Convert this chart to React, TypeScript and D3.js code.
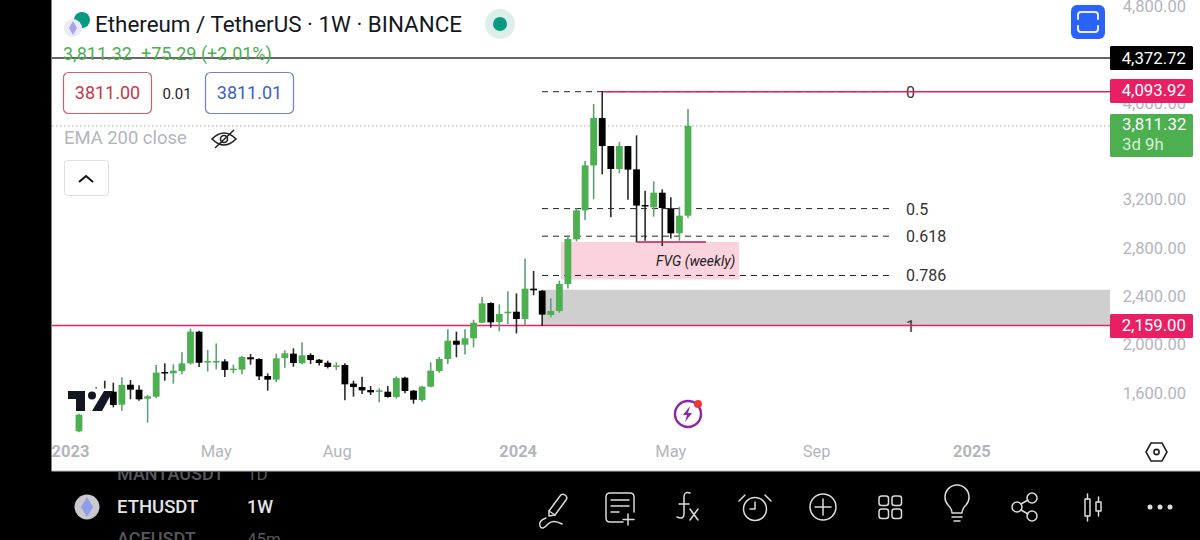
import React from "react";
import * as d3 from "d3";

const opens = [1283,1580,1590,1610,1611,1504,1669,1628,1553,1570,1774,1763,1782,1846,2108,1860,1860,1862,1796,1794,1896,1882,1741,1711,1890,1926,1846,1915,1876,1851,1821,1832,1678,1650,1625,1614,1611,1567,1727,1620,1542,1653,1782,1882,2033,2000,2053,2182,2345,2188,2260,2273,2213,2464,2447,2246,2279,2502,2872,3112,3484,3876,3644,3454,3644,3451,3156,3137,3258,3129,2922,3068];
const highs = [1430,1620,1647,1702,1686,1730,1708,1664,1584,1832,1846,1838,1937,2133,2116,1956,2011,1879,1835,1909,1923,1887,1763,1926,1954,1970,2020,1929,1882,1868,1854,1846,1703,1735,1658,1639,1658,1738,1735,1625,1658,1854,1898,2127,2108,2127,2207,2395,2351,2334,2442,2425,2712,2610,2453,2384,2530,2894,3129,3520,3992,4094,3644,3678,3644,3733,3275,3352,3286,3220,3142,3951];
const lows = [1275,1500,1520,1540,1482,1454,1548,1537,1355,1556,1702,1678,1755,1835,1816,1777,1796,1733,1763,1755,1835,1708,1620,1691,1810,1818,1838,1840,1827,1804,1791,1540,1570,1592,1584,1523,1562,1553,1598,1512,1529,1647,1769,1840,1896,1920,1978,2180,2141,2111,2171,2094,2160,2409,2155,2227,2265,2466,2855,3032,3203,3410,3054,3418,3200,2847,2861,3060,2817,2880,2861,3051];
const closes = [1421,1530,1560,1580,1501,1667,1628,1548,1573,1769,1766,1785,1846,2108,1851,1865,1865,1791,1802,1898,1879,1738,1711,1887,1929,1849,1912,1873,1849,1816,1829,1672,1650,1622,1606,1622,1567,1724,1617,1545,1653,1785,1882,2033,2000,2053,2182,2342,2185,2254,2273,2213,2464,2450,2249,2279,2502,2875,3112,3484,3876,3644,3454,3644,3449,3151,3148,3258,3131,2922,3068,3811.32];

const yTickValues = [4800, 4000, 3200, 2800, 2400, 2000, 1600];
const xTickWeeks = [-1, 16, 30.1, 51.2, 69, 86, 104.1];
const xTickLabels = ["2023", "May", "Aug", "2024", "May", "Sep", "2025"];
const xTickBold = [true, false, false, true, false, false, true];

const fibHigh = 4093.92;
const fibLow = 2159;
const fibLevels = [0, 0.5, 0.618, 0.786, 1];
const fibLabels = ["0", "0.5", "0.618", "0.786", "1"];
const blackLevel = 4372.72;
const lastPrice = 3811.32;
const fvgTop = 2850;
const fvgBottom = 2540;
const grayTop = 2455;

const font = "Roboto, sans-serif";
const GREEN = "#4caf50";
const PINK = "#e91e63";
const AXIS = "#b2b5be";
const ICON = "#dcdcdc";

const Icon = ({ x, children, y = 507 }: any) => (
  <g transform={`translate(${x},${y})`} fill="none" stroke={ICON} strokeWidth={1.5} strokeLinecap="round" strokeLinejoin="round">
    {children}
  </g>
);

export default function App() {
  const x = d3.scaleLinear().domain([0, 71]).range([79, 688]);
  const y = d3.scaleLinear().domain([blackLevel, fibLow]).range([58, 325.5]);
  const fmt = d3.format(",.2f");
  const fibY = (l: number) => y(fibHigh - (fibHigh - fibLow) * l);
  const R = 1110;
  const L = 52;
  const bw = 6.8;

  return (
    <svg width={1200} height={540} viewBox="0 0 1200 540" style={{ position: "fixed", left: 0, top: 0, display: "block", fontFamily: font }}>
      <rect width={1200} height={540} fill="#fff" />

      {/* zones */}
      <rect x={x(54)} y={y(grayTop)} width={R - x(54)} height={y(fibLow) - y(grayTop)} fill="#cfcfcf" />
      <rect x={561} y={y(fvgTop)} width={178} height={y(fvgBottom) - y(fvgTop)} fill="#fbd3df" />

      {/* horizontal lines */}
      <line x1={L} x2={R} y1={y(lastPrice)} y2={y(lastPrice)} stroke="#b5bdb5" strokeWidth={1.2} strokeDasharray="1.5 2.5" />

      {/* fib levels */}
      {fibLevels.map((l, i) => (
        <g key={l}>
          <line x1={542} x2={893} y1={fibY(l)} y2={fibY(l)} stroke="#222" strokeWidth={1} strokeDasharray="6 5" />
          <text x={906} y={fibY(l) + 6} fontSize={16} fill="#333">{fibLabels[i]}</text>
        </g>
      ))}

      <line x1={L} x2={R} y1={y(fibLow)} y2={y(fibLow)} stroke={PINK} strokeWidth={1.6} />
      <line x1={x(61)} x2={R} y1={y(fibHigh)} y2={y(fibHigh)} stroke={PINK} strokeWidth={1.6} />

      {/* candles */}
      {opens.map((o, i) => {
        const c = closes[i];
        const up = c >= o;
        const top = y(Math.max(o, c));
        const bot = y(Math.min(o, c));
        return (
          <g key={i}>
            <line x1={x(i)} x2={x(i)} y1={y(highs[i])} y2={y(lows[i])} stroke={up ? "#5f9f75" : "#2a2a2a"} strokeWidth={1.6} />
            <rect x={x(i) - bw / 2} y={top} width={bw} height={Math.max(bot - top, 1.5)} fill={up ? GREEN : "#000"} />
          </g>
        );
      })}

      {/* FVG bottom line and label */}
      <line x1={637} x2={706} y1={y(fvgTop)} y2={y(fvgTop)} stroke="#b3204f" strokeWidth={1.4} />
      <text x={656} y={266} fontSize={14} fontStyle="italic" fill="#222">FVG (weekly)</text>

      {/* TV logo on a white patch */}
      <rect x={66} y={388.5} width={43} height={25} fill="#fff" />
      <g fill="#131722">
        <path d="M68 391h17v20h-9v-12h-8z" />
        <circle cx={92} cy={395.5} r={4} />
        <path d="M104 391h9l-11 20h-10z" />
      </g>

      {/* lightning badge */}
      <g>
        <circle cx={688} cy={414} r={13} fill="none" stroke="#8e24aa" strokeWidth={2.4} />
        <path d="M690 406l-7 9h4l-2 7 7-9h-4z" fill="#8e24aa" />
        <circle cx={698} cy={404} r={4} fill="#e53935" />
      </g>

      {/* black line */}
      <line x1={L} x2={R} y1={y(blackLevel)} y2={y(blackLevel)} stroke="#333" strokeWidth={1.5} />

      {/* header */}
      <circle cx={82} cy={20} r={8} fill="#089981" />
      <circle cx={73} cy={28} r={9} fill="#eceaf6" />
      <path d="M73 21l-4 7 4 7 4-7z" fill="#a9a3e6" />
      <text x={95} y={32} fontSize={22.4} fill="#131722">Ethereum / TetherUS · 1W · BINANCE</text>
      <circle cx={500} cy={24} r={15} fill="#dcefeb" />
      <circle cx={500} cy={24} r={7} fill="#089981" />
      <text y={60} fontSize={18} fill={GREEN}>
        <tspan x={63}>3,811.32</tspan>
        <tspan x={141}>+75.29 (+2.01%)</tspan>
      </text>

      <rect x={63.5} y={72.5} width={88} height={41} rx={5} fill="#fff" stroke="#c9606f" strokeWidth={1.2} />
      <text x={107.5} y={99} fontSize={18} textAnchor="middle" fill="#c8374a">3811.00</text>
      <text x={177} y={99} fontSize={15} textAnchor="middle" fill="#222">0.01</text>
      <rect x={205.5} y={72.5} width={88} height={41} rx={5} fill="#fff" stroke="#6d84c9" strokeWidth={1.2} />
      <text x={249.5} y={99} fontSize={18} textAnchor="middle" fill="#3d5fc4">3811.01</text>

      <text x={64} y={144} fontSize={18.4} fill={AXIS}>EMA 200 close</text>
      <g fill="none" stroke="#222" strokeWidth={1.6}>
        <path d="M212 139q12-12 24 0q-12 12-24 0z" />
        <circle cx={224} cy={139} r={3.5} />
        <path d="M215 148l19-18" />
      </g>
      <rect x={64.5} y={160.5} width={44} height={35} rx={3} fill="#fff" stroke="#ddd" />
      <path d="M79 182l7-6 7 6" fill="none" stroke="#111" strokeWidth={2} />

      <rect x={1071} y={5} width={34} height={34} rx={6} fill="#2962ff" />
      <g fill="none" stroke="#e8eeff" strokeWidth={2} strokeLinecap="round">
        <path d="M1078 19v-4q0-3 3-3h14q3 0 3 3v4" />
        <path d="M1078 26v3q0 3 3 3h14q3 0 3-3v-3" />
      </g>

      {/* axes */}
      {yTickValues.map((v) => (
        <text key={v} x={1186} y={y(v) + 5.5} fontSize={16.5} textAnchor="end" fill={AXIS}>{fmt(v)}</text>
      ))}
      {/* price tags */}
      <rect x={1110} y={46} width={83} height={24} rx={1.5} fill="#000" />
      <text x={1186} y={63.5} fontSize={16.8} textAnchor="end" fill="#fff">{fmt(blackLevel)}</text>
      <rect x={1110} y={79} width={83} height={24} rx={1.5} fill={PINK} />
      <text x={1186} y={96} fontSize={16.8} textAnchor="end" fill="#fff">{fmt(fibHigh)}</text>
      <rect x={1110} y={114} width={83} height={43} rx={1.5} fill={GREEN} />
      <text x={1122} y={130} fontSize={16.8} fill="#fff">{fmt(lastPrice)}</text>
      <text x={1122} y={150} fontSize={16.8} fill="#d5f0d6">3d 9h</text>
      <rect x={1110} y={314} width={83} height={24} rx={1.5} fill={PINK} />
      <text x={1186} y={331} fontSize={16.8} textAnchor="end" fill="#fff">{fmt(fibLow)}</text>

      {xTickWeeks.map((w, i) => (
        <text key={i} x={x(w)} y={457} fontSize={16.5} textAnchor="middle" fontWeight={xTickBold[i] ? 700 : 400} fill={AXIS}>{xTickLabels[i]}</text>
      ))}
      <g fill="none" stroke="#222" strokeWidth={1.6}>
        <path d="M1146 452l5-9h11l5 9-5 9h-11z" />
        <circle cx={1156.5} cy={452} r={2.6} />
      </g>

      {/* frame */}
      <rect x={0} y={0} width={51.5} height={540} fill="#000" />
      <rect x={0} y={471} width={1200} height={69} fill="#000" />
      <line x1={51.5} x2={1200} y1={471} y2={471} stroke="#bbb" strokeWidth={1} />

      {/* bottom bar */}
      <clipPath id="bar"><rect x={52} y={472} width={600} height={68} /></clipPath>
      <g clipPath="url(#bar)">
        <text x={117} y={480} fontSize={18} fontWeight={500} fill="#55585f">MANTAUSDT</text>
        <text x={247} y={480} fontSize={17} fill="#55585f">1D</text>
        <text x={117} y={545} fontSize={18} fontWeight={500} fill="#55585f">ACEUSDT</text>
        <text x={247} y={545} fontSize={17} fill="#55585f">45m</text>
      </g>
      <circle cx={87} cy={507} r={12.5} fill="#c9c9d0" />
      <path d="M87 497l-6 10 6 10 6-10z" fill="#8f9ee8" />
      <text x={117} y={513} fontSize={18.5} fontWeight={500} fill="#e4e4e4">ETHUSDT</text>
      <text x={247} y={513} fontSize={18} fontWeight={500} fill="#e4e4e4">1W</text>

      <Icon x={552}>
        <path d="M-3 4L8-11q2-3 5-1t1 5L3 8l-6 1z" />
        <path d="M-3 4l6 4" />
        <path d="M-6 11q-8 3-6 8t8-2q5-5 14 0" />
      </Icon>
      <Icon x={620}>
        <path d="M14 5v-15q0-4-4-4h-20q-4 0-4 4v21q0 4 4 4h13" />
        <path d="M-9-7h18M-9-1h18M-9 5h8M8 7v11M3 12.5h11" />
      </Icon>
      <Icon x={687}>
        <path d="M3-14q-6-2-6 4v17q0 6-7 3" />
        <path d="M-8-3h10M3 2l8 11M11 2l-8 11" />
      </Icon>
      <Icon x={755}>
        <circle r={11.5} cy={2} />
        <path d="M0-5v7h-5M-10-12l-6 6M10-12l6 6" />
      </Icon>
      <Icon x={823}>
        <circle r={13} />
        <path d="M0-8v16M-8 0h16" />
      </Icon>
      <Icon x={890}>
        <rect x={-11} y={-11} width={9.5} height={9.5} rx={2.5} />
        <rect x={2} y={-11} width={9.5} height={9.5} rx={2.5} />
        <rect x={-11} y={2} width={9.5} height={9.5} rx={2.5} />
        <rect x={2} y={2} width={9.5} height={9.5} rx={2.5} />
      </Icon>
      <Icon x={957}>
        <path d="M-5 6q0-4-4-8a12 12 0 1 1 18 0q-4 4-4 8z" />
        <path d="M-5 10H5M-3 14H3" />
      </Icon>
      <Icon x={1025}>
        <circle cx={-8} r={5} />
        <circle cx={7} cy={-9} r={5} />
        <circle cx={7} cy={9} r={5} />
        <path d="M-4-3L3-7M-4 3L3 7" />
      </Icon>
      <Icon x={1092}>
        <rect x={-7} y={-8} width={5} height={17} />
        <path d="M-4.5-13v5M-4.5 9v5" />
        <rect x={4} y={-5} width={5} height={9} />
        <path d="M6.5-10v5M6.5 4v5" />
      </Icon>
      <g fill={ICON}>
        <circle cx={1150} cy={507} r={2.5} />
        <circle cx={1160} cy={507} r={2.5} />
        <circle cx={1170} cy={507} r={2.5} />
      </g>
    </svg>
  );
}
